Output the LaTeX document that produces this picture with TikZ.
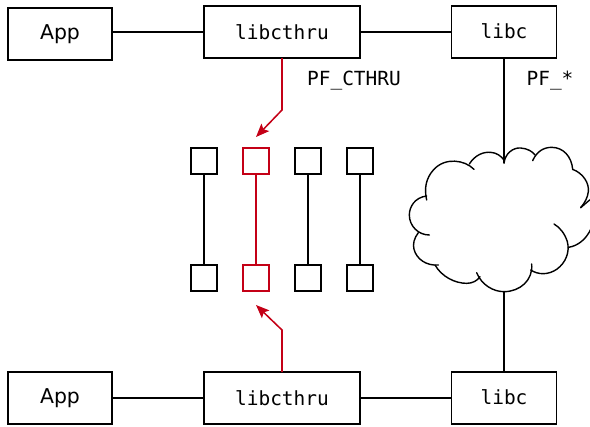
\documentclass[tikz,border=0pt]{standalone}
\usepackage{fontspec}
\setmainfont{DejaVu Sans}
\setmonofont{DejaVu Sans Mono}
\usetikzlibrary{arrows.meta}

\definecolor{pfred}{RGB}{196,0,22}

\begin{document}
\begin{tikzpicture}[
    x=0.75pt, y=-0.75pt,
    box/.style={draw, line width=1.05pt, minimum height=39pt, inner sep=0pt, outer sep=0pt},
    appbox/.style={box, minimum width=78pt, font=\fontsize{15.3}{18}\selectfont},
    thrubox/.style={box, minimum width=117pt, font=\ttfamily\fontsize{14.6}{18}\selectfont},
    libcbox/.style={box, minimum width=78.5pt, font=\ttfamily\fontsize{14.6}{18}\selectfont},
    pfbox/.style={draw, line width=1.05pt, minimum size=19.5pt, inner sep=0pt, outer sep=0pt},
    redbox/.style={pfbox, draw=pfred},
    flag/.style={font=\ttfamily\fontsize{14.6}{18}\selectfont},
    edge/.style={line width=1.05pt},
    rededge/.style={line width=1.05pt, draw=pfred},
    redarrow/.style={-{Stealth[length=10pt, width=8pt, inset=2pt]}, line width=1.15pt, draw=pfred},
    cloudline/.style={line width=1.05pt, line cap=round},
]
\useasboundingbox (0,0) rectangle (590,426);

% Top row
\node[appbox] (apptop) at (60,34) {\raisebox{-0.7pt}{App}};
\node[thrubox] (thrutop) at (282,32) {libcthru};
\node[libcbox] (libctop) at (504,32) {\raisebox{1.5pt}{libc}};

% Bottom row
\node[appbox] (appbot) at (60,398) {\raisebox{-1pt}{App}};
\node[thrubox] (thrubot) at (282,398) {\raisebox{-0.7pt}{libcthru}};
\node[libcbox] (libcbot) at (504,398) {\raisebox{1.5pt}{libc}};

% Flag labels
\node[flag] (pfcthru) at (354,81) {PF\_CTHRU};
\node[flag] (pfstar) at (550,81) {PF\_*};

% Page frames
\node[pfbox] (frameAtop) at (204,161) {};
\node[redbox] (frameBtop) at (256,161) {};
\node[pfbox] (frameCtop) at (308,161) {};
\node[pfbox] (frameDtop) at (360,161) {};
\node[pfbox] (frameAbot) at (204,278) {};
\node[redbox] (frameBbot) at (256,278) {};
\node[pfbox] (frameCbot) at (308,278) {};
\node[pfbox] (frameDbot) at (360,278) {};

\draw[edge] (frameAtop) -- (frameAbot);
\draw[rededge] (frameBtop) -- (frameBbot);
\draw[edge] (frameCtop) -- (frameCbot);
\draw[edge] (frameDtop) -- (frameDbot);

% Horizontal links
\draw[edge] (apptop.east |- thrutop) -- (thrutop);
\draw[edge] (thrutop) -- (libctop);
\draw[edge] (appbot) -- (thrubot);
\draw[edge] (thrubot) -- (libcbot);

% Red arrows
\coordinate (bendtop) at (282,110);
\coordinate (tiptop) at (256,137);
\coordinate (bendbot) at (282,330);
\coordinate (tipbot) at (256,305);
\draw[redarrow] (thrutop.south) -- (bendtop) -- (tiptop);
\draw[redarrow] (thrubot.north) -- (bendbot) -- (tipbot);

% Links into the cloud
\coordinate (cloudtop) at (504,163);
\coordinate (cloudbot) at (504,292);
\draw[edge] (libctop) -- (cloudtop);
\draw[edge] (libcbot) -- (cloudbot);

% Cloud
\begin{scope}[shift={(400,140)}, x=0.25pt, y=-0.25pt, cloudline]
  \draw (222,88) .. controls (195,60) and (135,50) .. (100,90) .. controls (78,115) and (72,145) .. (80,180);
  \draw (80,168) .. controls (45,172) and (28,200) .. (28,225) .. controls (28,258) and (55,285) .. (88,285);
  \draw (55,278) .. controls (42,295) and (38,312) .. (42,328) .. controls (50,358) and (80,378) .. (115,375);
  \draw (105,375) .. controls (125,410) and (165,430) .. (200,430) .. controls (218,430) and (232,422) .. (240,410);
  \draw (230,398) .. controls (245,435) and (280,455) .. (312,455) .. controls (360,455) and (400,420) .. (395,372);
  \draw (392,390) .. controls (415,405) and (445,405) .. (470,388) .. controls (498,368) and (510,335) .. (502,305) .. controls (495,282) and (480,262) .. (462,252);
  \draw (505,322) .. controls (535,318) and (560,295) .. (572,268);
  \draw (572,178) .. controls (562,185) and (552,195) .. (542,203);
  \draw (518,88) .. controls (550,100) and (568,130) .. (565,155) .. controls (563,172) and (555,188) .. (542,203);
  \draw (398,62) .. controls (410,35) and (430,22) .. (455,22) .. controls (490,22) and (515,50) .. (518,88);
  \draw (312,70) .. controls (315,40) and (340,22) .. (362,24) .. controls (382,25) and (398,35) .. (405,45);
  \draw (208,72) .. controls (225,45) and (250,35) .. (272,37) .. controls (290,38) and (303,48) .. (312,60);
\end{scope}

\end{tikzpicture}
\end{document}
